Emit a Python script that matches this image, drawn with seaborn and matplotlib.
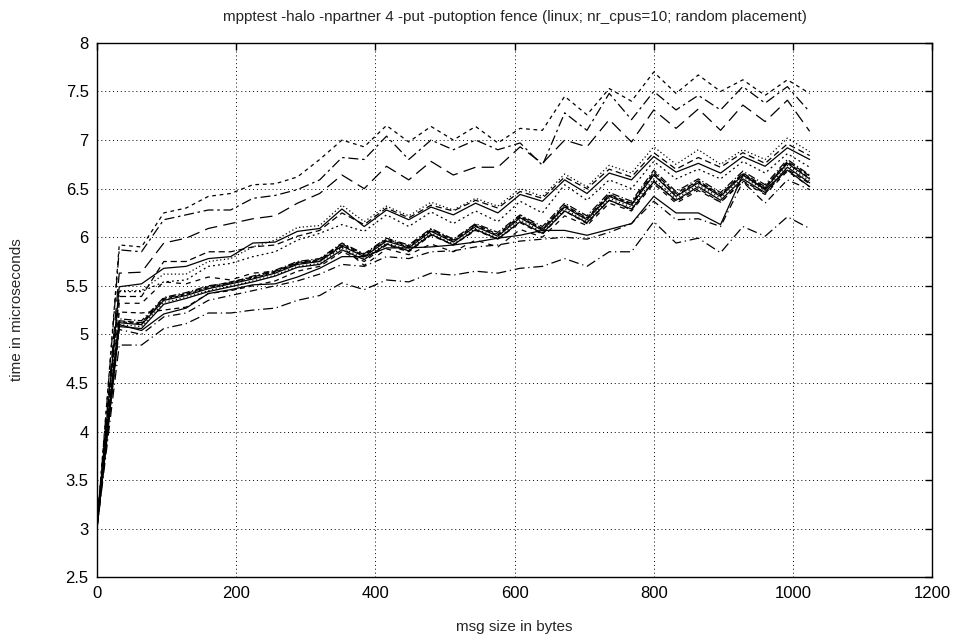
import numpy as np
import pandas as pd
import matplotlib
matplotlib.use("Agg")
import matplotlib.pyplot as plt
import matplotlib.ticker as mticker
import seaborn as sns

# ---------------- data ----------------#
msg_sizes = [0, 32, 64, 96, 128, 160, 192, 224, 256, 288, 320, 352, 384, 416, 448, 480, 512,
             544, 576, 608, 640, 672, 704, 736, 768, 800, 832, 864, 896, 928, 960, 992, 1024]

# upper outliers
run_a = [3.02, 5.92, 5.90, 6.25, 6.30, 6.42, 6.45, 6.54, 6.55, 6.62, 6.80, 7.00, 6.93, 7.15, 6.98, 7.14, 7.00,
         7.14, 6.97, 7.12, 7.10, 7.45, 7.26, 7.53, 7.40, 7.70, 7.48, 7.67, 7.50, 7.62, 7.46, 7.62, 7.48]
run_b = [3.02, 5.87, 5.85, 6.18, 6.23, 6.28, 6.28, 6.40, 6.43, 6.49, 6.59, 6.82, 6.80, 7.04, 6.80, 7.00, 6.90,
         7.00, 6.90, 6.97, 6.74, 7.28, 7.10, 7.48, 7.21, 7.50, 7.31, 7.46, 7.31, 7.55, 7.38, 7.55, 7.29]
run_c = [3.03, 5.63, 5.64, 5.94, 5.99, 6.09, 6.14, 6.19, 6.22, 6.35, 6.45, 6.64, 6.50, 6.73, 6.59, 6.78, 6.64,
         6.72, 6.72, 6.93, 6.76, 7.00, 6.93, 7.21, 6.98, 7.31, 7.12, 7.32, 7.10, 7.36, 7.19, 7.41, 7.09]

# upper band
run_d = [3.05, 5.49, 5.52, 5.68, 5.70, 5.78, 5.80, 5.94, 5.95, 6.06, 6.09, 6.29, 6.11, 6.28, 6.18, 6.31, 6.23,
         6.35, 6.25, 6.44, 6.37, 6.59, 6.45, 6.66, 6.59, 6.83, 6.67, 6.76, 6.66, 6.83, 6.73, 6.92, 6.80]
run_e = [3.04, 5.45, 5.45, 5.62, 5.62, 5.75, 5.78, 5.90, 5.97, 6.10, 6.12, 6.33, 6.16, 6.32, 6.22, 6.36, 6.28,
         6.40, 6.32, 6.50, 6.42, 6.65, 6.52, 6.74, 6.66, 6.93, 6.75, 6.90, 6.75, 6.90, 6.80, 7.02, 6.88]
run_f = [3.04, 5.39, 5.39, 5.75, 5.75, 5.85, 5.85, 5.90, 5.92, 6.01, 6.07, 6.25, 6.13, 6.30, 6.20, 6.33, 6.27,
         6.38, 6.30, 6.47, 6.40, 6.62, 6.50, 6.70, 6.62, 6.87, 6.70, 6.82, 6.72, 6.87, 6.76, 6.96, 6.84]
run_g = [3.03, 5.44, 5.44, 5.54, 5.56, 5.70, 5.73, 5.80, 5.85, 5.97, 6.04, 6.13, 6.06, 6.23, 6.11, 6.26, 6.14,
         6.27, 6.16, 6.37, 6.25, 6.54, 6.38, 6.59, 6.50, 6.78, 6.60, 6.70, 6.60, 6.78, 6.66, 6.86, 6.72]
run_h = [3.02, 5.32, 5.32, 5.54, 5.52, 5.59, 5.56, 5.63, 5.65, 5.73, 5.76, 5.90, 5.71, 5.88, 5.82, 5.93, 5.85,
         5.97, 5.90, 6.08, 6.00, 6.22, 6.12, 6.35, 6.27, 6.55, 6.35, 6.48, 6.36, 6.57, 6.44, 6.68, 6.52]

# main bundle
run_m1 = [3.05, 5.12, 5.10, 5.35, 5.40, 5.47, 5.52, 5.57, 5.63, 5.72, 5.75, 5.91, 5.80, 5.96, 5.89, 6.06, 5.95,
          6.11, 6.01, 6.20, 6.07, 6.31, 6.18, 6.42, 6.33, 6.64, 6.42, 6.56, 6.42, 6.64, 6.50, 6.76, 6.60]
run_m2 = [3.08, 5.14, 5.12, 5.37, 5.42, 5.49, 5.54, 5.59, 5.65, 5.74, 5.77, 5.93, 5.82, 5.98, 5.91, 6.08, 5.97,
          6.13, 6.03, 6.22, 6.09, 6.33, 6.20, 6.44, 6.35, 6.67, 6.45, 6.58, 6.44, 6.66, 6.52, 6.78, 6.63]
run_m3 = [3.03, 5.10, 5.08, 5.33, 5.38, 5.45, 5.50, 5.55, 5.61, 5.70, 5.73, 5.89, 5.78, 5.94, 5.87, 6.04, 5.93,
          6.09, 5.99, 6.18, 6.05, 6.29, 6.16, 6.40, 6.31, 6.60, 6.40, 6.54, 6.40, 6.62, 6.48, 6.74, 6.58]
run_m4 = [3.10, 5.16, 5.14, 5.38, 5.43, 5.50, 5.53, 5.60, 5.66, 5.75, 5.78, 5.94, 5.83, 5.99, 5.92, 6.09, 5.98,
          6.14, 6.05, 6.23, 6.11, 6.35, 6.22, 6.46, 6.37, 6.69, 6.47, 6.60, 6.46, 6.68, 6.54, 6.80, 6.64]
run_m5 = [3.00, 5.08, 5.06, 5.31, 5.37, 5.44, 5.49, 5.54, 5.60, 5.69, 5.72, 5.87, 5.77, 5.93, 5.86, 6.03, 5.92,
          6.08, 5.98, 6.16, 6.04, 6.27, 6.15, 6.38, 6.29, 6.57, 6.38, 6.52, 6.38, 6.60, 6.46, 6.72, 6.56]
run_m6 = [3.06, 5.13, 5.11, 5.36, 5.41, 5.48, 5.53, 5.58, 5.64, 5.73, 5.76, 5.92, 5.81, 5.97, 5.90, 6.07, 5.96,
          6.12, 6.02, 6.21, 6.08, 6.32, 6.19, 6.43, 6.34, 6.65, 6.43, 6.57, 6.43, 6.65, 6.51, 6.77, 6.61]
run_m7 = [3.02, 5.23, 5.22, 5.25, 5.28, 5.42, 5.45, 5.50, 5.55, 5.65, 5.70, 5.85, 5.75, 5.92, 5.85, 6.02, 5.92,
          6.07, 5.98, 6.15, 6.03, 6.27, 6.14, 6.38, 6.28, 6.58, 6.37, 6.50, 6.36, 6.58, 6.45, 6.70, 6.55]

# lower lines
run_n = [3.00, 5.10, 5.04, 5.21, 5.27, 5.42, 5.46, 5.51, 5.52, 5.59, 5.68, 5.80, 5.80, 5.89, 5.89, 5.90, 5.92,
         5.95, 5.99, 6.02, 6.07, 6.07, 6.02, 6.08, 6.14, 6.42, 6.25, 6.25, 6.13, 6.64, 6.49, 6.69, 6.52]
run_o = [3.01, 5.05, 5.00, 5.18, 5.22, 5.35, 5.40, 5.45, 5.50, 5.55, 5.62, 5.72, 5.70, 5.80, 5.78, 5.85, 5.86,
         5.90, 5.92, 5.96, 5.98, 6.00, 5.98, 6.05, 6.14, 6.37, 6.18, 6.19, 6.11, 6.57, 6.35, 6.59, 6.49]
run_p = [3.00, 4.89, 4.89, 5.06, 5.11, 5.22, 5.22, 5.25, 5.27, 5.35, 5.40, 5.53, 5.46, 5.56, 5.54, 5.63, 5.61,
         5.65, 5.63, 5.68, 5.70, 5.78, 5.70, 5.85, 5.85, 6.16, 5.94, 5.99, 5.84, 6.11, 6.01, 6.21, 6.09]

runs = {"a": run_a, "b": run_b, "c": run_c, "d": run_d, "e": run_e, "f": run_f, "g": run_g, "h": run_h,
        "m1": run_m1, "m2": run_m2, "m3": run_m3, "m4": run_m4, "m5": run_m5, "m6": run_m6, "m7": run_m7,
        "n": run_n, "o": run_o, "p": run_p}

# gnuplot-like mono line types
dash_types = {"a": (3, 3), "b": (8, 3, 2, 3), "c": (10, 5), "d": "", "e": (1, 2), "f": (5, 3),
              "g": (1.5, 2.5), "h": (4, 4), "m1": "", "m2": (5, 2), "m3": (1, 2), "m4": (6, 2, 1, 2),
              "m5": "", "m6": (3, 2), "m7": (4, 3), "n": "", "o": (6, 3, 1, 3), "p": (8, 3, 1, 3)}

df = pd.concat([pd.DataFrame({"size": msg_sizes, "time": v, "run": k}) for k, v in runs.items()],
               ignore_index=True)

# ---------- Plotting -----------#
sns.set_theme(style="white")
plt.rcParams['font.family'] = ['Liberation Sans', 'DejaVu Sans']

fig, ax = plt.subplots(figsize=(9.6, 6.4), dpi=100)
fig.subplots_adjust(left=0.101, right=0.971, top=0.933, bottom=0.098)

sns.lineplot(data=df, x="size", y="time", hue="run", style="run",
             palette=["black"] * len(runs), dashes=dash_types, estimator=None,
             linewidth=0.9, legend=False, ax=ax)

ax.set_xlim(0, 1200)
ax.set_ylim(2.5, 8)
ax.set_xticks(np.arange(0, 1201, 200))
ax.set_yticks(np.arange(2.5, 8.01, 0.5))
ax.yaxis.set_major_formatter(mticker.FormatStrFormatter('%g'))
ax.grid(True, color="black", linestyle=(0, (1, 3)), linewidth=0.7)
ax.tick_params(direction="in", length=5, width=1, top=True, right=True,
               labelsize=12, colors="black", pad=6)
for sp in ax.spines.values():
    sp.set_color("black")
    sp.set_linewidth(1.0)

ax.set_xlabel("msg size in bytes", fontsize=11, labelpad=14)
ax.set_ylabel("time in microseconds", fontsize=11, labelpad=30)
ax.set_title("mpptest -halo -npartner 4 -put -putoption fence (linux; nr_cpus=10; random placement)",
             fontsize=11, pad=16)

plt.savefig("out.png", dpi=100)
